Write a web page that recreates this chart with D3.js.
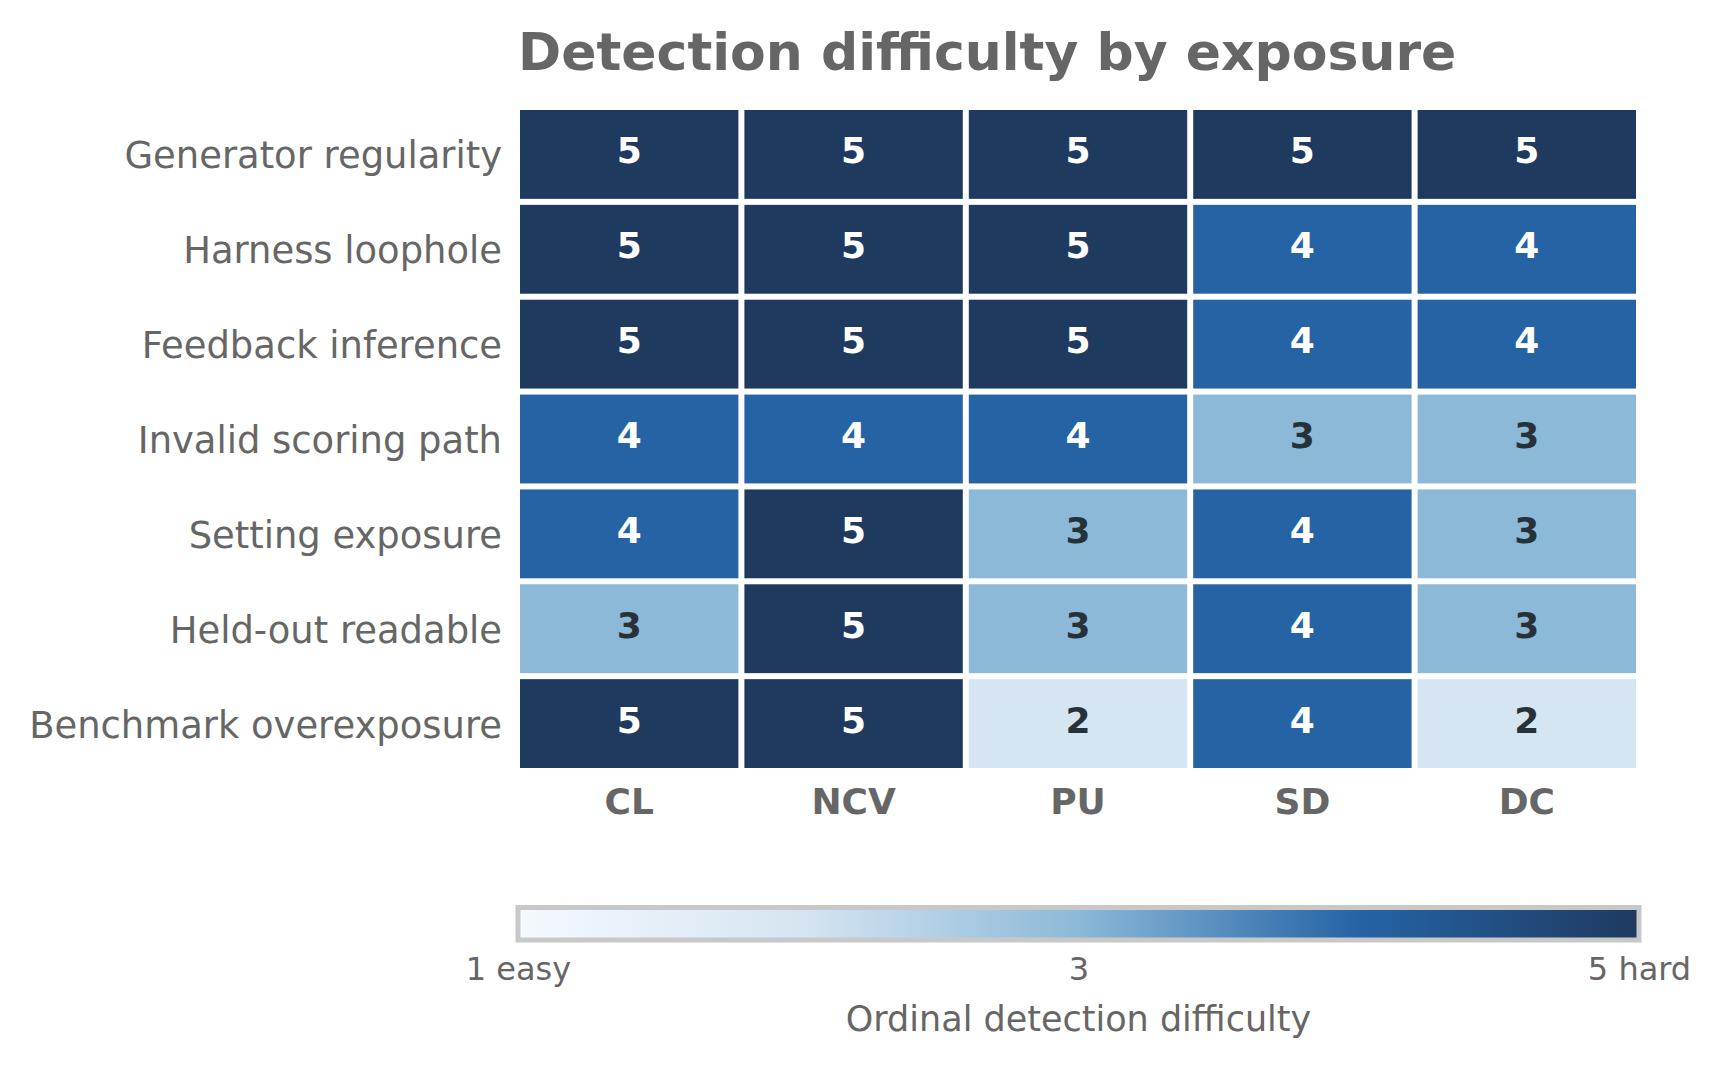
<!DOCTYPE html>
<html>
<head>
<meta charset="utf-8">
<script src="https://cdn.jsdelivr.net/npm/d3@7"></script>
<style>
  body { margin: 0; background: #fff; }
  svg { display: block; font-family: "DejaVu Sans", sans-serif; }
</style>
</head>
<body>
<svg id="chart" width="1721" height="1070"></svg>
<script>
// data
const rowNames = ["Generator regularity", "Harness loophole", "Feedback inference",
  "Invalid scoring path", "Setting exposure", "Held-out readable", "Benchmark overexposure"];
const colNames = ["CL", "NCV", "PU", "SD", "DC"];
const scores = [
  [5, 5, 5, 5, 5],
  [5, 5, 5, 4, 4],
  [5, 5, 5, 4, 4],
  [4, 4, 4, 3, 3],
  [4, 5, 3, 4, 3],
  [3, 5, 3, 4, 3],
  [5, 5, 2, 4, 2]
];
const levels = [1, 2, 3, 4, 5];
const levelColors = ["#f5f9fe", "#d6e5f2", "#8cb9d8", "#2563a5", "#1f3a5f"];
const barTicks = [1, 3, 5];
const barTickLabels = ["1 easy", "3", "5 hard"];

const grey = "#666666";

const svg = d3.select("#chart");

//Margins / grid extent
const grid = {left: 517, right: 1639, top: 107, bottom: 771};
const gap = 3;

const x = d3.scaleBand().domain(colNames).range([grid.left, grid.right]);
const y = d3.scaleBand().domain(rowNames).range([grid.top, grid.bottom]);

const color = d3.scaleLinear()
  .domain(levels)
  .range(levelColors)
  .interpolate(d3.interpolateRgb);

// title
svg.append("text")
  .attr("x", 518)
  .attr("y", 70)
  .attr("fill", grey)
  .style("font-size", "52px")
  .style("font-weight", "bold")
  .text("Detection difficulty by exposure");

// cells
const cells = [];
scores.forEach(function(row, i) {
  row.forEach(function(v, j) {
    cells.push({row: rowNames[i], col: colNames[j], value: v});
  });
});

const cell = svg.append("g").selectAll("g")
  .data(cells)
  .join("g");

cell.append("rect")
  .attr("x", d => x(d.col) + gap)
  .attr("y", d => y(d.row) + gap)
  .attr("width", x.bandwidth() - 2 * gap)
  .attr("height", y.bandwidth() - 2 * gap)
  .attr("fill", d => color(d.value));

cell.append("text")
  .attr("x", d => x(d.col) + x.bandwidth() / 2)
  .attr("y", d => y(d.row) + y.bandwidth() / 2 + 9)
  .attr("text-anchor", "middle")
  .attr("fill", d => d.value >= 4 ? "#ffffff" : "#263238")
  .style("font-size", "36px")
  .style("font-weight", "bold")
  .text(d => d.value);

// row labels
svg.append("g")
  .attr("transform", `translate(${grid.left}, 0)`)
  .call(d3.axisLeft(y).tickSize(0).tickPadding(15))
  .call(g => g.select(".domain").remove())
  .selectAll("text")
    .attr("fill", grey)
    .attr("dy", null)
    .attr("y", 14)
    .style("font-size", "36.9px")
    .style("font-family", "DejaVu Sans");

// column labels
svg.append("g")
  .attr("transform", `translate(0, ${grid.bottom})`)
  .call(d3.axisBottom(x).tickSize(0).tickPadding(0))
  .call(g => g.select(".domain").remove())
  .selectAll("text")
    .attr("fill", grey)
    .attr("dy", null)
    .attr("y", 43)
    .style("font-size", "36px")
    .style("font-weight", "bold")
    .style("font-family", "DejaVu Sans");

// colorbar
const bar = {x0: 518, x1: 1639, y: 907.5, h: 32.5};
const bx = d3.scaleLinear().domain([1, 5]).range([bar.x0, bar.x1]);

const grad = svg.append("defs").append("linearGradient")
  .attr("id", "barGrad")
  .attr("x1", "0%").attr("x2", "100%")
  .attr("y1", "0%").attr("y2", "0%");

grad.selectAll("stop")
  .data(levels)
  .join("stop")
    .attr("offset", d => ((d - 1) / 4 * 100) + "%")
    .attr("stop-color", d => color(d));

svg.append("rect")
  .attr("x", bx(1))
  .attr("y", bar.y)
  .attr("width", bx(5) - bx(1))
  .attr("height", bar.h)
  .attr("fill", "url(#barGrad)")
  .attr("stroke", "#c8c8c8")
  .attr("stroke-width", 5);

svg.append("g")
  .attr("transform", `translate(0, ${bar.y + bar.h})`)
  .call(d3.axisBottom(bx).tickValues(barTicks)
    .tickFormat((d, i) => barTickLabels[i]).tickSize(0))
  .call(g => g.select(".domain").remove())
  .selectAll("text")
    .attr("fill", grey)
    .attr("dy", null)
    .attr("y", 40)
    .style("font-size", "32px")
    .style("font-family", "DejaVu Sans");

svg.append("text")
  .attr("x", bx(3))
  .attr("y", 1031)
  .attr("text-anchor", "middle")
  .attr("fill", grey)
  .style("font-size", "35px")
  .text("Ordinal detection difficulty");
</script>
</body>
</html>
